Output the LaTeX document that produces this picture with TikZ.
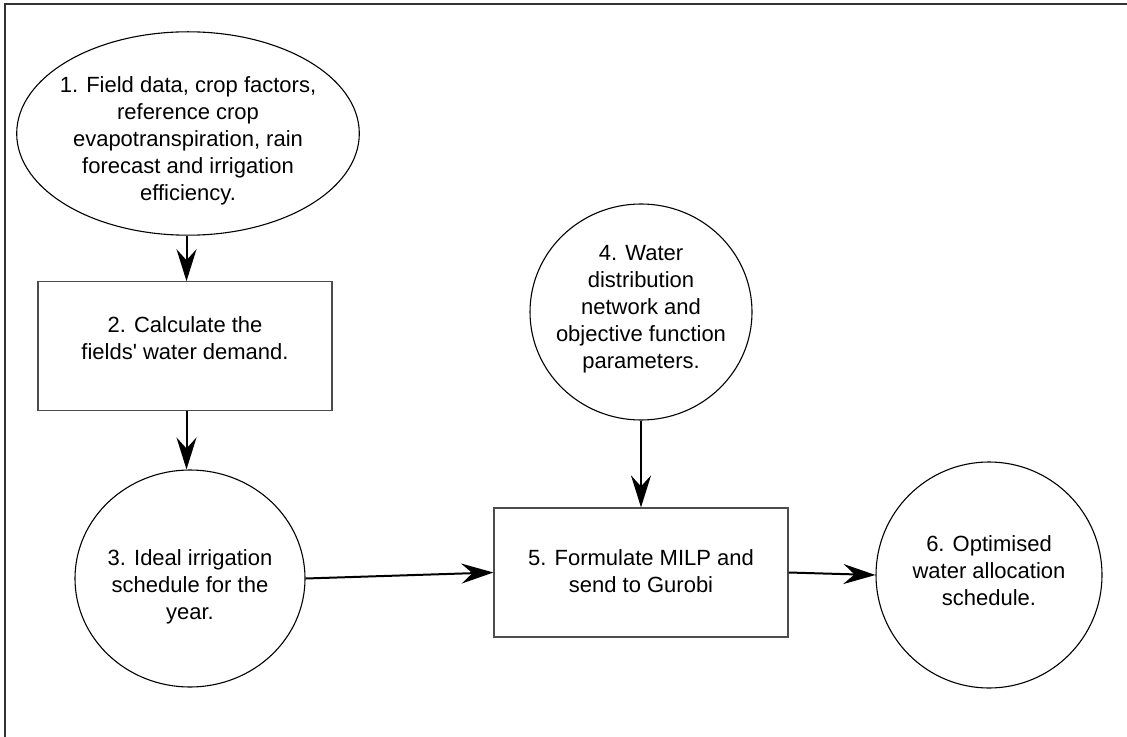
\documentclass[tikz,border=0pt]{standalone}
\usepackage{fontspec}
\setmainfont{Liberation Sans}
\usetikzlibrary{shapes.geometric,arrows.meta}
\tikzset{
  shapeline/.style={draw=black, line width=0.55pt, inner sep=0pt},
  boxline/.style={draw=black!70, line width=0.6pt, inner sep=0pt, rectangle, minimum width=147pt, minimum height=64.5pt},
  roundnode/.style={shapeline, ellipse},
  txt/.style={align=center, font=\fontsize{11pt}{13.5pt}\selectfont, inner sep=0pt},
  flow/.style={draw=black, line width=1pt, -{Stealth[length=16pt,width=10pt,inset=5.5pt]}},
}
\begin{document}
\begin{tikzpicture}[x=0.5pt,y=-0.5pt]
\useasboundingbox (0,0) rectangle (1127,737);
\draw[black!80, line width=1pt] (1140,4.5) -- (5,4.5) -- (5,750);
% nodes
\node[roundnode, minimum width=171.3pt, minimum height=101.7pt] (e1) at (188,133.5) {};
\node[txt] (t1) at (188,141) {1. Field data, crop factors,\\reference crop\\evapotranspiration, rain\\forecast and irrigation\\efficiency.};
\node[boxline] (b2) at (185,346.3) {};
\node[txt] (t2) at (185,338.5) {2. Calculate the\\fields\textquotesingle{} water demand.};
\node[roundnode, minimum width=115pt, minimum height=108.5pt] (c3) at (190,578.5) {};
\node[txt] (t3) at (190,586.5) {3. Ideal irrigation\\schedule for the\\year.};
\node[roundnode, minimum width=111pt, minimum height=108pt] (c4) at (641,312) {};
\node[txt] (t4) at (641,309) {4. Water\\distribution\\network and\\objective function\\parameters.};
\node[boxline] (b5) at (641,572.5) {};
\node[txt] (t5) at (641,571) {5. Formulate MILP and\\send to Gurobi};
\node[roundnode, minimum width=113pt, minimum height=113pt] (c6) at (989,575) {};
\node[txt] (t6) at (989,571) {6. Optimised\\water allocation\\schedule.};
% connectors
\coordinate (a1) at (186.5,0);
\draw[flow] (e1.south -| a1) -- (b2.north -| a1);
\draw[flow] (b2.south -| a1) -- (c3.north -| a1);
\draw[flow] (c3.east) -- (b5.west);
\draw[flow] (c4.south) -- (b5.north);
\draw[flow] (b5.east) -- (c6.west);
\end{tikzpicture}
\end{document}
